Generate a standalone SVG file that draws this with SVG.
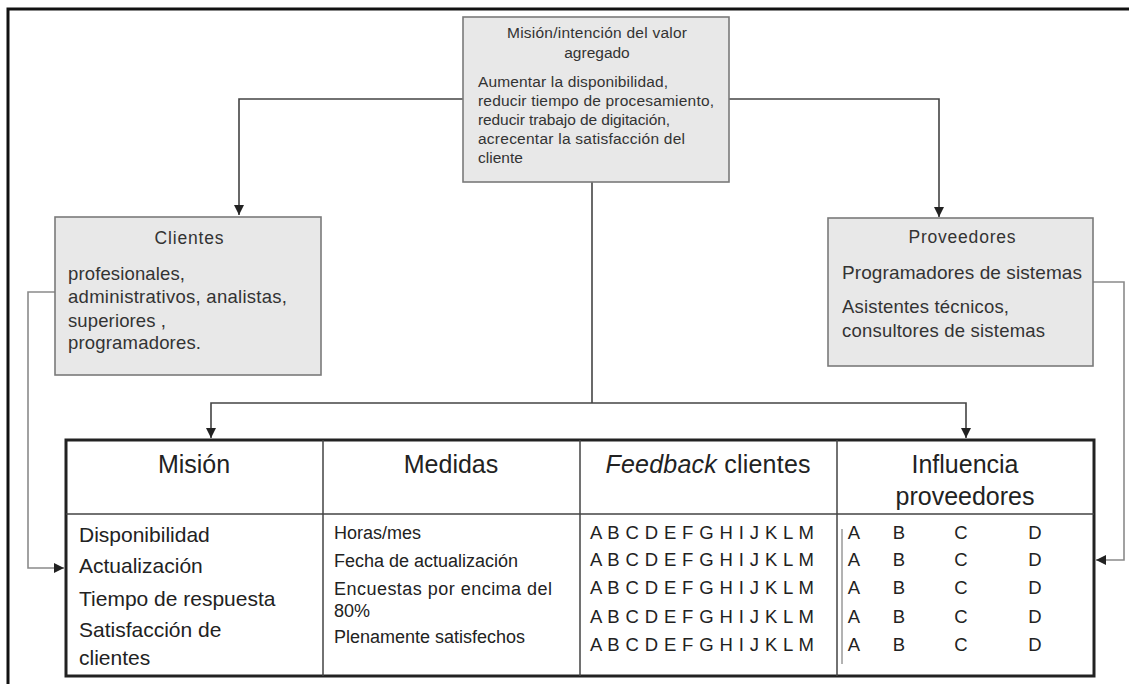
<svg xmlns="http://www.w3.org/2000/svg" width="1129" height="684" viewBox="0 0 1129 684">
  <style>
    text { font-family: "Liberation Sans", Arial, sans-serif; fill: #2b2b2b; }
    .box { fill: #e8e8e8; stroke: #7a7a7a; stroke-width: 1.6; }
    .small { font-size: 15.5px; fill: #333; }
    .mid { font-size: 18.5px; fill: #333; }
    .ttl { font-size: 17.5px; fill: #333; }
    .hdr { font-size: 25px; fill: #222; }
    .row { font-size: 21px; fill: #222; }
    .meas { font-size: 18px; fill: #222; }
    .let { font-size: 18.5px; fill: #222; }
    .c { text-anchor: middle; }
    .wire { fill: none; stroke: #444; stroke-width: 1.6; }
    .side { fill: none; stroke: #8a8a8a; stroke-width: 1.6; }
  </style>
  <defs>
    <marker id="arrow" markerUnits="userSpaceOnUse" markerWidth="12" markerHeight="10" refX="10" refY="5" orient="auto">
      <path d="M0,0 L10,5 L0,10 Z" fill="#222"/>
    </marker>
  </defs>

  <rect width="1129" height="684" fill="#ffffff"/>
  <!-- page frame -->
  <path d="M8,684 V9 H1129" fill="none" stroke="#111" stroke-width="3"/>

  <!-- connectors -->
  <g id="connectors">
    <path class="wire" d="M463,99 H239 V215" marker-end="url(#arrow)"/>
    <path class="wire" d="M729,99 H939 V217" marker-end="url(#arrow)"/>
    <path class="wire" d="M592,182 V403"/>
    <path class="wire" d="M592,403 H211 V438" marker-end="url(#arrow)"/>
    <path class="wire" d="M592,403 H966 V438" marker-end="url(#arrow)"/>
    <path class="side" d="M55,292 H28 V568 H64" marker-end="url(#arrow)"/>
    <path class="side" d="M1093,282 H1124 V560 H1096" marker-end="url(#arrow)"/>
  </g>

  <!-- value-added mission -->
  <g id="mision-valor">
    <rect class="box" x="463" y="17" width="266" height="165"/>
    <text class="small c" x="597" y="38" textLength="180" lengthAdjust="spacing">Misión/intención del valor</text>
    <text class="small c" x="597" y="58">agregado</text>
    <text class="small" x="478" y="87" textLength="190" lengthAdjust="spacing">Aumentar la disponibilidad,</text>
    <text class="small" x="478" y="106" textLength="236" lengthAdjust="spacing">reducir tiempo de procesamiento,</text>
    <text class="small" x="478" y="125" textLength="192" lengthAdjust="spacing">reducir trabajo de digitación,</text>
    <text class="small" x="478" y="144" textLength="207" lengthAdjust="spacing">acrecentar la satisfacción del</text>
    <text class="small" x="478" y="163">cliente</text>
  </g>

  <!-- customers -->
  <g id="clientes">
    <rect class="box" x="55" y="217" width="266" height="158"/>
    <text class="ttl c" x="189" y="244" textLength="69" lengthAdjust="spacing">Clientes</text>
    <text class="mid" x="68" y="280" textLength="117" lengthAdjust="spacing">profesionales,</text>
    <text class="mid" x="68" y="303" textLength="219" lengthAdjust="spacing">administrativos, analistas,</text>
    <text class="mid" x="68" y="327" textLength="98" lengthAdjust="spacing">superiores ,</text>
    <text class="mid" x="68" y="349" textLength="133" lengthAdjust="spacing">programadores.</text>
  </g>

  <!-- suppliers -->
  <g id="proveedores">
    <rect class="box" x="828" y="218" width="265" height="148"/>
    <text class="ttl c" x="962" y="243" textLength="107" lengthAdjust="spacing">Proveedores</text>
    <text class="mid" x="842" y="279" style="font-size:19px" textLength="240" lengthAdjust="spacing">Programadores de sistemas</text>
    <text class="mid" x="842" y="313" textLength="167" lengthAdjust="spacing">Asistentes técnicos,</text>
    <text class="mid" x="842" y="337" textLength="203" lengthAdjust="spacing">consultores de sistemas</text>
  </g>

  <!-- scorecard table -->
  <g id="tabla">
    <rect x="66" y="440" width="1028" height="236" fill="#fff" stroke="#222" stroke-width="3"/>
    <path d="M66,514 H1094 M323,440 V676 M580,440 V676 M837,440 V676" fill="none" stroke="#444" stroke-width="1.5"/>
    <path d="M842,529 V664" fill="none" stroke="#666" stroke-width="1"/>

    <text class="hdr c" x="194" y="473">Misión</text>
    <text class="hdr c" x="451" y="473">Medidas</text>
    <text class="hdr c" x="708" y="473" textLength="205" lengthAdjust="spacing"><tspan font-style="italic">Feedback</tspan> clientes</text>
    <text class="hdr c" x="965" y="473">Influencia</text>
    <text class="hdr c" x="965" y="505">proveedores</text>

    <text class="row" x="79" y="542">Disponibilidad</text>
    <text class="row" x="79" y="573">Actualización</text>
    <text class="row" x="79" y="606">Tiempo de respuesta</text>
    <text class="row" x="79" y="637">Satisfacción de</text>
    <text class="row" x="79" y="665">clientes</text>

    <text class="meas" x="334" y="539">Horas/mes</text>
    <text class="meas" x="334" y="567">Fecha de actualización</text>
    <text class="meas" x="334" y="595" textLength="218" lengthAdjust="spacing">Encuestas por encima del</text>
    <text class="meas" x="334" y="617">80%</text>
    <text class="meas" x="334" y="643">Plenamente satisfechos</text>

    <text class="let" x="590" y="539" textLength="224" lengthAdjust="spacing">A B C D E F G H I J K L M</text>
    <text class="let" x="590" y="566" textLength="224" lengthAdjust="spacing">A B C D E F G H I J K L M</text>
    <text class="let" x="590" y="594" textLength="224" lengthAdjust="spacing">A B C D E F G H I J K L M</text>
    <text class="let" x="590" y="623" textLength="224" lengthAdjust="spacing">A B C D E F G H I J K L M</text>
    <text class="let" x="590" y="651" textLength="224" lengthAdjust="spacing">A B C D E F G H I J K L M</text>

    <g>
      <text class="let c" x="854" y="539">A</text><text class="let c" x="899" y="539">B</text><text class="let c" x="961" y="539">C</text><text class="let c" x="1035" y="539">D</text>
      <text class="let c" x="854" y="566">A</text><text class="let c" x="899" y="566">B</text><text class="let c" x="961" y="566">C</text><text class="let c" x="1035" y="566">D</text>
      <text class="let c" x="854" y="594">A</text><text class="let c" x="899" y="594">B</text><text class="let c" x="961" y="594">C</text><text class="let c" x="1035" y="594">D</text>
      <text class="let c" x="854" y="623">A</text><text class="let c" x="899" y="623">B</text><text class="let c" x="961" y="623">C</text><text class="let c" x="1035" y="623">D</text>
      <text class="let c" x="854" y="651">A</text><text class="let c" x="899" y="651">B</text><text class="let c" x="961" y="651">C</text><text class="let c" x="1035" y="651">D</text>
    </g>
  </g>
</svg>
